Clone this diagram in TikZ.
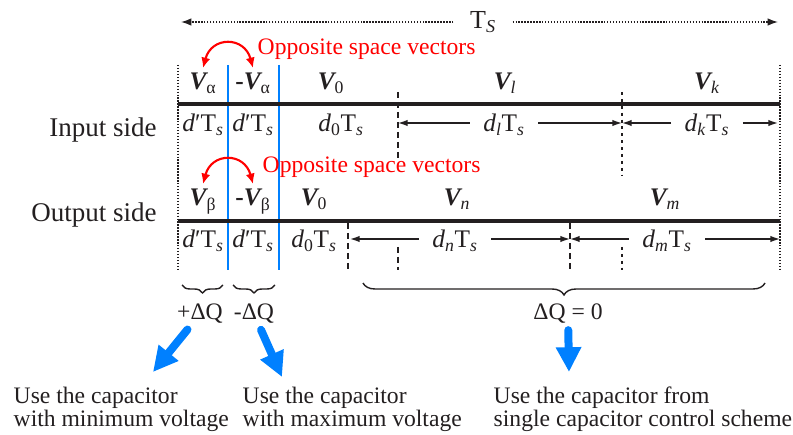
\documentclass[tikz,border=0pt]{standalone}
\usepackage{fontspec}
\setmainfont{Liberation Serif}
\usetikzlibrary{arrows.meta, decorations.pathreplacing}
\definecolor{cblue}{RGB}{0,128,255}
\definecolor{cred}{RGB}{255,0,0}
\definecolor{cink}{HTML}{231F20}
\newcommand{\svec}[1]{{\bfseries\itshape V}\textsubscript{#1}}
\newcommand{\dts}[1]{\textit{d}#1T\textsubscript{\textit{s}}}
\tikzset{
  every picture/.style={line width=1pt, color=cink},
  rail/.style={line width=2.85pt},
  edge/.style={line width=1.3pt, dash pattern=on 1pt off 1.1pt},
  cut/.style={draw=cblue, line width=1.4pt},
  longdash/.style={line width=1.2pt, dash pattern=on 4.3pt off 2.8pt},
  shortdash/.style={line width=1.2pt, dash pattern=on 2.1pt off 2.8pt},
  span/.style={-{Latex[length=2.6mm, width=1.9mm]}, line width=1pt, dash pattern=on 1pt off 1.1pt},
  dim/.style={-{Latex[length=2.4mm, width=1.6mm]}, line width=1pt},
}

\begin{document}
\begin{tikzpicture}[
    vlab/.style={anchor=base, font=\fontsize{18}{20}\selectfont},
    dlab/.style={font=\fontsize{18}{20}\selectfont, text height=0.5cm, text depth=0.05cm, inner xsep=0.32cm},
    side/.style={anchor=base east, font=\fontsize{19.2}{22}\selectfont},
    opp/.style={anchor=base west, text=cred, font=\fontsize{16.8}{18}\selectfont, inner sep=0pt},
    swap/.style={{Latex[length=2.6mm, width=2.3mm]}-{Latex[length=2.6mm, width=2.3mm]}, draw=cred, line width=1.5pt},
    brc/.style={decorate, decoration={brace, mirror, amplitude=#1}, line width=1pt},
    qlab/.style={anchor=base, font=\fontsize{16.8}{18}\selectfont, inner sep=2pt},
    fat/.style={-{Triangle[length=0.62cm, width=0.6cm]}, draw=cblue, line width=0.2cm, line cap=round, shorten <=2pt},
    usetxt/.style={anchor=north west, align=left, inner sep=0pt, font=\fontsize{16.8}{16.4}\selectfont}]
  \useasboundingbox (0,0) rectangle (19.825,10.85);
  \node[font=\fontsize{18.5}{20}\selectfont, inner xsep=0.4cm] (ts) at (12.075,10.3) {T\textsubscript{\textit{S}}};
  \coordinate (tsl) at (4.525,10.3);
  \coordinate (tsr) at (19.45,10.3);
  \draw[span] (ts) -- (tsl);
  \draw[span] (ts) -- (tsr);
  \foreach \x in {4.45,19.5} \draw[edge] (\x,9.225) -- (\x,4.1);
  \foreach \x in {5.7,6.975} \draw[cut] (\x,9.225) -- (\x,4.1);
  \foreach \y in {8.25,5.325} \draw[rail] (4.45,\y) -- (19.5,\y);
  \draw[longdash] (9.95,8.55) -- (9.95,6.85);
  \draw[longdash] (9.95,4.675) -- (9.95,4.1);
  \draw[shortdash] (15.55,8.55) -- (15.55,6.475);
  \draw[shortdash] (15.55,4.675) -- (15.55,4.1);
  \foreach \x in {8.7,14.25} \draw[longdash] (\x,5.275) -- (\x,4.1);
  % input side
  \node[side] (inside) at (4.05,7.425) {Input side};
  \node[vlab] (va) at (5.075,8.6) {\svec{α}};
  \node[vlab] (mva) at (6.325,8.6) {\textbf{-}\svec{α}};
  \node[vlab] (iv0) at (8.275,8.6) {\svec{0}};
  \node[vlab] (vl) at (12.625,8.6) {\svec{\textit{l}}};
  \node[vlab] (vk) at (17.675,8.6) {\svec{\textit{k}}};
  \node[dlab] (ida) at (5.075,7.775) {\dts{′}};
  \node[dlab] (idb) at (6.325,7.775) {\dts{′}};
  \node[dlab] (id0) at (8.525,7.775) {\dts{\textsubscript{0}}};
  \node[dlab] (idl) at (12.6,7.775) {\dts{\textsubscript{\textit{l}}}};
  \node[dlab] (idk) at (17.675,7.775) {\dts{\textsubscript{\textit{k}}}};
  \coordinate (ci1) at (9.95,7.775);
  \coordinate (ci2) at (15.55,7.775);
  \coordinate (ciR) at (19.45,7.775);
  \draw[dim] (idl) -- (ci1);
  \draw[dim] (idl) -- (ci2);
  \draw[dim] (idk) -- (ci2);
  \draw[dim] (idk) -- (ciR);
  \draw[swap] (va.north) to[out=75, in=105, looseness=1.7] (mva.north);
  \node[opp] (opp1) at (6.425,9.475) {Opposite space vectors};
  % output side
  \node[side] (outside) at (4.05,5.3) {Output side};
  \node[vlab] (vb) at (5.075,5.7) {\svec{β}};
  \node[vlab] (mvb) at (6.325,5.7) {\textbf{-}\svec{β}};
  \node[vlab] (ov0) at (7.85,5.7) {\svec{0}};
  \node[vlab] (vn) at (11.425,5.7) {\svec{\textit{n}}};
  \node[vlab] (vm) at (16.625,5.7) {\svec{\textit{m}}};
  \node[dlab] (oda) at (5.075,4.875) {\dts{′}};
  \node[dlab] (odb) at (6.325,4.875) {\dts{′}};
  \node[dlab] (od0) at (7.85,4.875) {\dts{\textsubscript{0}}};
  \node[dlab] (odn) at (11.375,4.875) {\dts{\textsubscript{\textit{n}}}};
  \node[dlab] (odm) at (16.675,4.875) {\dts{\textsubscript{\textit{m}}}};
  \coordinate (co1) at (8.75,4.875);
  \coordinate (co2) at (14.25,4.875);
  \coordinate (coR) at (19.5,4.875);
  \draw[dim] (odn) -- (co1);
  \draw[dim] (odn) -- (co2);
  \draw[dim] (odm) -- (co2);
  \draw[dim] (odm) -- (coR);
  \draw[swap] (vb.north) to[out=75, in=105, looseness=1.7] (mvb.north);
  \node[opp] (opp2) at (6.55,6.525) {Opposite space vectors};
  % charge balance
  \draw[brc=0.2cm] (4.55,3.725) -- (5.575,3.725);
  \draw[brc=0.2cm] (5.825,3.725) -- (6.875,3.725);
  \draw[brc=0.3cm] (9.075,3.775) -- (19.125,3.775);
  \node[qlab] (pq) at (5.0,2.85) {+ΔQ};
  \node[qlab] (mq) at (6.35,2.85) {-ΔQ};
  \node[qlab] (zq) at (14.2,2.85) {ΔQ = 0};
  \coordinate (tmin) at (3.825,1.55);
  \coordinate (tmax) at (7.05,1.425);
  \coordinate (tsgl) at (14.225,1.55);
  \draw[fat] (pq) -- (tmin);
  \draw[fat] (mq) -- (tmax);
  \draw[fat] (zq) -- (tsgl);
  \node[usetxt] (umin) at (0.325,1.2) {Use the capacitor\\with minimum voltage};
  \node[usetxt] (umax) at (6.05,1.2) {Use the capacitor\\with maximum voltage};
  \node[usetxt] (usgl) at (12.325,1.2) {Use the capacitor from\\single capacitor control scheme};
\end{tikzpicture}
\end{document}
